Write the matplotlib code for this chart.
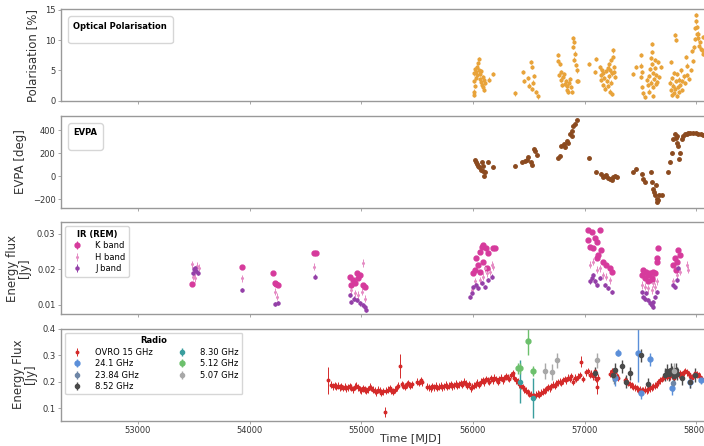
import numpy as np
import matplotlib
matplotlib.use("Agg")
import matplotlib.pyplot as plt

# ---- optical polarisation [%] ----
pol_mjd = [56005, 56005, 56008, 56012, 56015, 56020, 56025, 56030, 56035, 56040, 56045, 56050, 56055,
           56060, 56065, 56070, 56075, 56080, 56085, 56090, 56095, 56100, 56110, 56140, 56175,
           56378, 56448, 56460, 56490, 56505, 56520, 56527, 56530, 56540, 56550, 56565, 56578,
           56760, 56765, 56772, 56778, 56785, 56792, 56800, 56807, 56815, 56822, 56830, 56837, 56845,
           56853, 56860, 56867, 56875, 56888, 56891, 56897, 56903, 56908, 56912, 56920, 56927, 56933, 56942,
           57041, 57091, 57100, 57140, 57145, 57150, 57155, 57160, 57165, 57170, 57180, 57190, 57200,
           57205, 57210, 57215, 57220, 57225, 57228, 57232, 57236, 57240, 57245, 57250, 57255, 57260,
           57265, 57275,
           57434, 57458, 57500, 57505, 57508, 57512, 57515, 57525, 57540, 57555, 57565, 57575, 57580,
           57585, 57590, 57595, 57598, 57602, 57605, 57608, 57612, 57615, 57620, 57625, 57629, 57635,
           57640, 57650, 57658, 57665, 57679,
           57760, 57769, 57775, 57780, 57785, 57790, 57795, 57800, 57808, 57812, 57816, 57820, 57825,
           57830, 57835, 57840, 57845, 57850, 57860, 57867, 57875, 57885, 57895, 57906, 57912, 57920,
           57935, 57950, 57960,
           57970, 57978, 57985, 57990, 57993, 57998, 58002, 58008, 58012, 58016, 58022, 58031, 58038,
           58046, 58055, 58062]
pol_val = [1.5, 0.9, 3.2, 4.5, 2.4, 5.2, 3.8, 4.8, 5.6, 4.2, 6.2, 6.9, 5.0,
           4.4, 3.6, 4.9, 3.1, 2.6, 3.9, 2.2, 3.4, 1.8, 2.9, 3.5, 4.4,
           1.2, 4.7, 3.3, 3.8, 2.5, 6.4, 5.6, 1.9, 3.0, 4.1, 1.4, 0.7,
           7.5, 6.6, 4.2, 6.1, 3.5, 4.7, 2.6, 3.9, 4.4, 2.8, 3.2, 1.7, 2.4,
           1.5, 3.0, 3.6, 2.2, 1.4, 10.3, 8.9, 9.7, 6.8, 7.8, 5.9, 5.0, 3.3, 3.3,
           6.1, 4.7, 6.9, 5.5, 4.2, 3.4, 5.0, 2.6, 4.6, 3.8, 2.0, 4.9, 3.2,
           5.4, 2.4, 6.0, 4.0, 1.5, 5.0, 3.0, 6.7, 1.1, 4.5, 7.2, 8.3, 5.6,
           4.8, 3.9,
           4.4, 5.6, 7.5, 5.8, 3.9, 2.2, 4.8, 1.2, 0.6, 3.5, 2.6, 4.1, 1.5,
           5.2, 3.0, 7.0, 9.4, 8.0, 6.1, 2.2, 4.6, 0.8, 3.6, 5.4, 6.7, 2.8,
           4.3, 3.1, 6.4, 3.9, 5.6,
           3.0, 6.4, 1.8, 3.8, 0.9, 2.5, 4.6, 1.3, 10.8, 2.0, 10.0, 3.2, 0.8,
           4.4, 2.2, 1.4, 3.5, 2.6, 5.0, 3.3, 1.8, 4.0, 2.9, 7.2, 5.8, 4.2,
           3.6, 5.1, 8.2,
           6.5, 8.8, 10.2, 12.0, 14.2, 13.1, 12.2, 11.0, 10.3, 11.1, 9.0, 9.7, 8.6,
           8.3, 10.5, 7.8]

# ---- EVPA [deg] ----
evpa_mjd = [56017, 56031, 56037, 56046, 56055, 56067, 56076, 56085, 56091, 56097, 56106, 56136, 56175,
            56375, 56443, 56464, 56479, 56494, 56515, 56524, 56545, 56554, 56575,
            56763, 56778, 56792, 56813, 56825, 56837, 56852, 56867, 56882, 56888, 56897, 56912, 56933,
            57040, 57100, 57150, 57165, 57180, 57195, 57210, 57225, 57240, 57255, 57270, 57285,
            57434, 57458, 57509, 57524, 57538, 57589, 57598, 57613, 57619, 57628, 57637, 57643, 57649,
            57658, 57667, 57688,
            57747, 57762, 57777, 57792, 57807, 57816, 57822, 57828, 57837, 57846, 57852, 57867, 57882,
            57897, 57912, 57927, 57941, 57971, 57995, 58016, 58037, 58061]
evpa_val = [140, 125, 105, 91, 77, 57, 120, 48, 91, 0, 34, 120, 82,
            91, 125, 134, 143, 163, 120, 97, 234, 220, 183,
            154, 177, 263, 277, 257, 305, 291, 363, 391, 348, 434, 457, 486,
            160, 34, 20, -9, 5, 11, -18, -23, -38, -9, 0, -9,
            34, 62, 20, -23, -52, 34, -52, -109, -138, -166, -81, -195, -224,
            -209, -166, -161,
            40, 120, 205, 320, 363, 334, 348, 291, 263, 148, 205, 320, 348,
            363, 368, 377, 377, 371, 377, 363, 363, 354]

# ---- IR (REM) energy flux [Jy] ----
k_mjd = [53481, 53934, 54211, 54224, 54238, 54251, 54578, 54593,
         54898, 54912, 54927, 54942, 54957, 54972, 54987, 55017, 55032,
         56002, 56017, 56031, 56046, 56061, 56061, 56076, 56091, 56091, 56115, 56121, 56136, 56181, 56196,
         57031, 57031, 57046, 57061, 57076, 57091, 57106, 57106, 57121, 57136, 57150, 57165, 57195, 57225, 57240,
         57509, 57524, 57538, 57553, 57568, 57568, 57583, 57598, 57598, 57613, 57628, 57643, 57649, 57658,
         57792, 57807, 57816, 57822, 57837, 57852]
k_val = [0.0158, 0.0208, 0.0189, 0.0161, 0.0160, 0.0157, 0.0247, 0.0245,
         0.0180, 0.0156, 0.0170, 0.0161, 0.0189, 0.0175, 0.0185, 0.0156, 0.0151,
         0.0189, 0.0199, 0.0231, 0.0213, 0.0250, 0.0194, 0.0264, 0.0269, 0.0222, 0.0260, 0.0203, 0.0246, 0.0260, 0.0260,
         0.0311, 0.0283, 0.0264, 0.0306, 0.0260, 0.0288, 0.0278, 0.0231, 0.0241, 0.0311, 0.0255, 0.0222, 0.0213, 0.0203, 0.0194,
         0.0184, 0.0199, 0.0175, 0.0194, 0.0184, 0.0166, 0.0189, 0.0175, 0.0170, 0.0194, 0.0189, 0.0222, 0.0231, 0.0260,
         0.0213, 0.0231, 0.0199, 0.0222, 0.0255, 0.0241]
h_mjd = [53480, 53495, 53505, 53515, 53530, 53545, 53934, 54227, 54242, 54578,
         54912, 54942, 54972, 55002, 55011, 55030,
         55987, 56017, 56061, 56091, 56106, 56121, 56151, 56166, 56181,
         57046, 57076, 57106, 57136, 57165, 57195, 57225,
         57509, 57538, 57568, 57598, 57613, 57628, 57643,
         57792, 57822, 57852, 57912, 57927]
h_val = [0.0215, 0.0180, 0.0185, 0.0175, 0.0210, 0.0205, 0.0175, 0.0137, 0.0123, 0.0208,
         0.0142, 0.0133, 0.0128, 0.0137, 0.0218, 0.0118,
         0.0142, 0.0166, 0.0170, 0.0180, 0.0203, 0.0189, 0.0194, 0.0213, 0.0208,
         0.0213, 0.0222, 0.0199, 0.0203, 0.0184, 0.0180, 0.0170,
         0.0156, 0.0151, 0.0147, 0.0142, 0.0161, 0.0151, 0.0166,
         0.0166, 0.0184, 0.0194, 0.0213, 0.0199]
j_mjd = [53490, 53500, 53510, 53520, 53535, 53934, 54230, 54251, 54584,
         54898, 54912, 54935, 54960, 54987, 55017, 55032, 55040,
         55972, 55987, 56002, 56031, 56046, 56076, 56106, 56136, 56166,
         57046, 57061, 57076, 57091, 57106, 57136, 57180, 57210, 57240,
         57509, 57524, 57538, 57553, 57568, 57583, 57598, 57607, 57613, 57628, 57643,
         57792, 57807, 57822, 57837]
j_val = [0.0190, 0.0200, 0.0205, 0.0195, 0.0190, 0.0142, 0.0102, 0.0105, 0.0180,
         0.0128, 0.0108, 0.0118, 0.0114, 0.0104, 0.0100, 0.0095, 0.0086,
         0.0123, 0.0133, 0.0151, 0.0156, 0.0147, 0.0161, 0.0151, 0.0170, 0.0180,
         0.0166, 0.0175, 0.0184, 0.0166, 0.0156, 0.0175, 0.0156, 0.0147, 0.0137,
         0.0137, 0.0123, 0.0118, 0.0133, 0.0114, 0.0104, 0.0100, 0.0095, 0.0109, 0.0123, 0.0137,
         0.0156, 0.0151, 0.0170, 0.0203]

# ---- radio energy flux [Jy] ----
ovro_mjd = [54705, 54730, 54745, 54760, 54775, 54790, 54805, 54820, 54835, 54850, 54865, 54880, 54895,
            54910, 54925, 54940, 54955, 54970, 54985, 55000, 55015, 55030, 55045, 55060, 55075, 55090,
            55105, 55120, 55135, 55150, 55165, 55180, 55195, 55210, 55225, 55240, 55255, 55270, 55285,
            55300, 55315, 55330, 55345, 55360, 55375, 55390, 55405, 55420, 55435, 55450, 55500, 55515,
            55530, 55545, 55590, 55605, 55620, 55635, 55650, 55665, 55680, 55695, 55710, 55725, 55740,
            55755, 55770, 55785, 55800, 55815, 55830, 55845, 55860, 55875, 55890, 55905, 55920, 55935,
            55950, 55965, 55980, 55995, 56010, 56025, 56040, 56055, 56070, 56085, 56100, 56115, 56130,
            56145, 56160, 56175, 56190, 56205, 56220, 56235, 56250, 56265, 56280, 56295, 56310, 56325,
            56340, 56355, 56370, 56385, 56400, 56415, 56430, 56445, 56460, 56475, 56490, 56505, 56520,
            56535, 56550, 56565, 56580, 56595, 56610, 56625, 56640, 56655, 56670, 56685, 56700, 56715,
            56730, 56745, 56760, 56775, 56790, 56805, 56820, 56835, 56850, 56865, 56880, 56895, 56910,
            56925, 56940, 56955, 56970, 56985, 57015, 57030, 57045, 57060, 57075, 57090, 57100, 57110,
            57120, 57225, 57240, 57255, 57270, 57285, 57300, 57360, 57375, 57390, 57405, 57420, 57435,
            57450, 57465, 57480, 57495, 57510, 57525, 57540, 57555, 57570, 57585, 57600, 57615, 57630,
            57645, 57660, 57675, 57690, 57705, 57720, 57735, 57750, 57765, 57780, 57795, 57810, 57825,
            57840, 57855, 57870, 57885, 57900, 57915, 57930, 57945, 57960, 57975, 57990, 58005, 58020,
            58035, 58050]
ovro_val = [0.205, 0.188, 0.182, 0.186, 0.180, 0.184, 0.178, 0.183, 0.176, 0.181, 0.175, 0.179, 0.183,
            0.177, 0.172, 0.180, 0.185, 0.178, 0.172, 0.168, 0.175, 0.170, 0.165, 0.172, 0.180, 0.176,
            0.170, 0.165, 0.160, 0.170, 0.165, 0.158, 0.163, 0.085, 0.165, 0.170, 0.175, 0.168, 0.162,
            0.170, 0.178, 0.185, 0.260, 0.190, 0.185, 0.180, 0.190, 0.195, 0.185, 0.190, 0.200, 0.195,
            0.205, 0.198, 0.180, 0.178, 0.175, 0.182, 0.178, 0.184, 0.176, 0.180, 0.185, 0.178, 0.182,
            0.188, 0.180, 0.184, 0.190, 0.182, 0.186, 0.192, 0.185, 0.190, 0.195, 0.188, 0.200, 0.192,
            0.185, 0.190, 0.175, 0.180, 0.185, 0.190, 0.196, 0.188, 0.200, 0.205, 0.198, 0.210, 0.205,
            0.200, 0.212, 0.205, 0.215, 0.210, 0.200, 0.210, 0.215, 0.205, 0.212, 0.220, 0.215, 0.210,
            0.225, 0.232, 0.215, 0.205, 0.200, 0.190, 0.185, 0.178, 0.172, 0.165, 0.160, 0.155, 0.150,
            0.148, 0.145, 0.150, 0.155, 0.150, 0.158, 0.162, 0.168, 0.172, 0.178, 0.175, 0.182, 0.188,
            0.185, 0.192, 0.198, 0.200, 0.195, 0.205, 0.210, 0.205, 0.215, 0.210, 0.220, 0.200, 0.215,
            0.210, 0.218, 0.225, 0.275, 0.210, 0.235, 0.240, 0.225, 0.230, 0.220, 0.240, 0.210, 0.180,
            0.215, 0.230, 0.240, 0.225, 0.235, 0.220, 0.215, 0.205, 0.200, 0.195, 0.190, 0.185, 0.180,
            0.178, 0.175, 0.172, 0.170, 0.168, 0.168, 0.170, 0.168, 0.172, 0.175, 0.178, 0.182, 0.185,
            0.190, 0.198, 0.205, 0.210, 0.215, 0.220, 0.218, 0.225, 0.220, 0.225, 0.215, 0.222, 0.230,
            0.225, 0.232, 0.228, 0.235, 0.240, 0.235, 0.228, 0.220, 0.215, 0.225, 0.232, 0.228, 0.222,
            0.218, 0.210]
ovro_big_err = {54705: 0.05, 55210: 0.02, 55345: 0.045, 56970: 0.02, 57110: 0.025}

r241_mjd = [57270, 57300, 57473, 57503, 57583, 57777, 57947, 58045]
r241_val = [0.215, 0.310, 0.310, 0.156, 0.285, 0.175, 0.200, 0.207]
r241_err = [0.030, 0.015, 0.110, 0.020, 0.025, 0.025, 0.025, 0.015]
r2384_mjd = [57262, 57790]
r2384_val = [0.222, 0.195]
r852_mjd = [57091, 57255, 57270, 57338, 57374, 57404, 57503, 57568, 57718, 57740, 57755, 57770,
            57785, 57800, 57815, 57830, 57867, 57947, 57990]
r852_val = [0.232, 0.226, 0.245, 0.258, 0.200, 0.232, 0.300, 0.190, 0.226, 0.240, 0.228, 0.245,
            0.235, 0.220, 0.245, 0.230, 0.213, 0.200, 0.225]
r830_mjd = [56420, 56539]
r830_val = [0.200, 0.137]
r830_err = [0.080, 0.075]
r512_mjd = [56404, 56420, 56494, 56539]
r512_val = [0.250, 0.250, 0.352, 0.240]
r512_err = [0.020, 0.020, 0.050, 0.020]
r507_mjd = [56643, 56703, 56748, 57106, 57800]
r507_val = [0.240, 0.235, 0.280, 0.280, 0.240]

C_POL = "#E8A33A"
C_EVPA = "#8B4A1F"
C_K, C_H, C_J = "#D63A9C", "#E58CC4", "#9440A8"

fig, axes = plt.subplots(4, 1, sharex=True, figsize=(7.04, 4.46), dpi=100)
fig.subplots_adjust(left=0.0866, right=1.0795, top=0.979, bottom=0.057, hspace=0.158)
ax1, ax2, ax3, ax4 = axes

ax1.errorbar(pol_mjd, pol_val, yerr=0.35, fmt="o", ms=2, color=C_POL, elinewidth=0.6, lw=0)
ax2.errorbar(evpa_mjd, evpa_val, yerr=8, fmt="o", ms=2.5, color=C_EVPA, elinewidth=0.6, lw=0)

ax3.errorbar(k_mjd, k_val, yerr=0.0004, fmt="o", ms=3.5, color=C_K, elinewidth=0.8, label="K band")
ax3.errorbar(h_mjd, h_val, yerr=0.0010, fmt="o", ms=1.2, color=C_H, elinewidth=0.7, label="H band")
ax3.errorbar(j_mjd, j_val, yerr=0.0006, fmt="o", ms=2.2, color=C_J, elinewidth=0.7, label="J band")

ovro_err = np.array([ovro_big_err.get(m, 0.013) for m in ovro_mjd])
ax4.errorbar(ovro_mjd, ovro_val, yerr=ovro_err, fmt="o", ms=1.8, color="#D42A2A", elinewidth=0.7,
             label="OVRO 15 GHz")
ax4.errorbar(r241_mjd, r241_val, yerr=r241_err, fmt="o", ms=3.5, color="#5B8FD9", elinewidth=1,
             label="24.1 GHz")
ax4.errorbar(r2384_mjd, r2384_val, yerr=0.03, fmt="o", ms=3, color="#6E86A6", elinewidth=1,
             label="23.84 GHz")
ax4.errorbar(r852_mjd, r852_val, yerr=0.025, fmt="o", ms=3, color="#4A4A4A", elinewidth=1,
             label="8.52 GHz")
ax4.errorbar(r830_mjd, r830_val, yerr=r830_err, fmt="o", ms=3, color="#3A9E9E", elinewidth=1,
             label="8.30 GHz")
ax4.errorbar(r512_mjd, r512_val, yerr=r512_err, fmt="o", ms=3.5, color="#6CC06C", elinewidth=1,
             label="5.12 GHz")
ax4.errorbar(r507_mjd, r507_val, yerr=0.03, fmt="o", ms=3, color="#A8A8A8", elinewidth=1,
             label="5.07 GHz")

ax4.set_xlim(52311, 58569)
ax1.set_ylim(-0.1, 15.1)
ax1.set_yticks([0, 5, 10, 15])
ax2.set_ylim(-275, 525)
ax2.set_yticks([-200, 0, 200, 400])
ax3.set_ylim(0.0074, 0.0333)
ax3.set_yticks([0.01, 0.02, 0.03])
ax4.set_ylim(0.053, 0.4)
ax4.set_yticks([0.1, 0.2, 0.3, 0.4])
ax4.set_xticks([53000, 54000, 55000, 56000, 57000, 58000])

lab = dict(fontsize=8.5, color="#333333")
ax1.set_ylabel("Polarisation [%]", **lab)
ax2.set_ylabel("EVPA [deg]", **lab)
ax3.set_ylabel("Energy flux\n[Jy]", linespacing=0.9, **lab)
ax4.set_ylabel("Energy Flux\n[Jy]", linespacing=0.9, **lab)
ax4.set_xlabel("Time [MJD]", fontsize=8, color="#333333", labelpad=-0.5)

for ax in axes:
    for s in ax.spines.values():
        s.set_color("#999999")
        s.set_linewidth(1.0)
    ax.tick_params(labelsize=6, colors="#999999", labelcolor="#333333", length=2.5, width=0.6, pad=1.5)

tfont = {"weight": "bold", "size": 6}
ax1.legend(handles=[], title="Optical Polarisation", title_fontproperties=tfont, loc="upper left")
ax2.legend(handles=[], title="EVPA", title_fontproperties=tfont, loc="upper left")
ax3.legend(title="IR (REM)", title_fontproperties=tfont, fontsize=6, loc="upper left",
           handletextpad=1.2, labelspacing=0.3)
ax4.legend(title="Radio", title_fontproperties=tfont, fontsize=6, loc="upper left", ncol=2,
           handletextpad=1.2, labelspacing=0.3, columnspacing=2.5)

fig.savefig("out.png", dpi=100)
